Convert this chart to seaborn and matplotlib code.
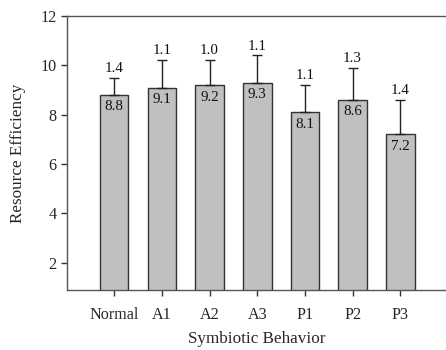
import matplotlib
matplotlib.use("Agg")
import matplotlib.pyplot as plt
import seaborn as sns
import pandas as pd

categories = ["Normal", "A1", "A2", "A3", "P1", "P2", "P3"]
means = [8.8, 9.1, 9.2, 9.3, 8.1, 8.6, 7.2]
sd_labels = [1.4, 1.1, 1.0, 1.1, 1.1, 1.3, 1.4]
err_drawn = [0.7, 1.1, 1.0, 1.1, 1.1, 1.3, 1.4]
yticks = [2, 4, 6, 8, 10, 12]

sns.set_style("ticks")
plt.rcParams["font.family"] = ["Liberation Serif", "DejaVu Serif"]

df = pd.DataFrame({"cat": categories, "val": means})

fig = plt.figure(figsize=(4.46, 3.5), dpi=100)
ax = fig.add_axes([67/446, 60/350, 1 - 67/446, 274/350])

sns.barplot(data=df, x="cat", y="val", color="#c0c0c0", edgecolor="#333333",
            linewidth=1.0, width=0.6, saturation=1, ax=ax)

xs = list(range(len(categories)))
ax.errorbar(xs, means, yerr=[[0]*len(means), err_drawn], fmt="none",
            ecolor="#222222", elinewidth=1.0, capsize=3.3, capthick=1.0, zorder=3)

for x, m, e, s in zip(xs, means, err_drawn, sd_labels):
    ax.text(x, m - 0.22, f"{m:.1f}", ha="center", va="top", fontsize=10.8, color="#111111")
    ax.text(x, m + e + 0.12, f"{s:.1f}", ha="center", va="bottom", fontsize=10.8, color="#111111")

ax.set_xlim(-0.99, 6.96)
ax.set_ylim(0.9, 12)
ax.set_yticks(yticks)
ax.set_yticklabels([str(t) for t in yticks])
ax.set_xlabel("Symbiotic Behavior", fontsize=12.3, labelpad=6)
ax.set_ylabel("Resource Efficiency", fontsize=12.3, labelpad=10)
ax.tick_params(axis="both", labelsize=11.6, length=4, width=1, color="#333333", direction="out")
ax.tick_params(axis="x", pad=8)
for sp in ["left", "bottom", "top"]:
    ax.spines[sp].set_color("#555555")
    ax.spines[sp].set_linewidth(1.0)
    ax.spines[sp].set_visible(True)
ax.spines["right"].set_visible(False)

fig.savefig("out.png", dpi=100)
